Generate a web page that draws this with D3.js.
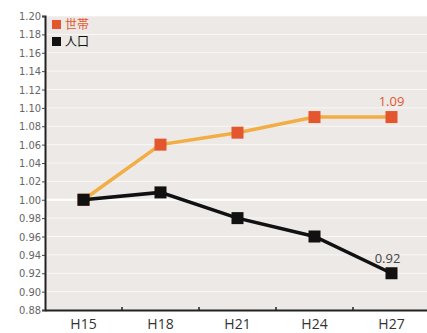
<!DOCTYPE html>
<html>
<head>
<meta charset="utf-8">
<script src="https://cdn.jsdelivr.net/npm/d3@7"></script>
<style>
  html, body { margin: 0; padding: 0; background: #ffffff; }
  svg { display: block; }
</style>
</head>
<body>
<div id="chart"></div>
<script>
// Survey years
const years = ["H15", "H18", "H21", "H24", "H27"];
// Index relative to H15 (= 1.00)
const households = [1.00, 1.06, 1.073, 1.09, 1.09];
const population = [1.00, 1.008, 0.98, 0.96, 0.92];
// Y axis tick values
const yTicks = [0.88, 0.90, 0.92, 0.94, 0.96, 0.98, 1.00, 1.02, 1.04, 1.06,
                1.08, 1.10, 1.12, 1.14, 1.16, 1.18, 1.20];
const seriesNames = ["世帯", "人口"];

const W = 427, H = 333;
const margin = { top: 16, right: -3, bottom: 23, left: 45 };

const svg = d3.select("#chart").append("svg")
  .attr("width", W).attr("height", H);

const x = d3.scaleBand()
  .domain(years)
  .range([margin.left, W - margin.right]);

const y = d3.scaleLinear()
  .domain([0.88, 1.20])
  .range([H - margin.bottom, margin.top]);

// Plot background
svg.append("rect")
  .attr("x", margin.left).attr("y", margin.top)
  .attr("width", W - margin.left).attr("height", y(0.88) - margin.top)
  .attr("fill", "#ece9e6");

// Horizontal gridlines
svg.append("g").selectAll("line")
  .data(yTicks.filter(d => d > 0.88))
  .join("line")
  .attr("x1", margin.left).attr("x2", W)
  .attr("y1", d => y(d)).attr("y2", d => y(d))
  .attr("stroke", "#ffffff")
  .attr("stroke-opacity", d => Math.abs(d - 1.0) < 1e-9 ? 1 : 0.7)
  .attr("stroke-width", d => Math.abs(d - 1.0) < 1e-9 ? 2 : 1);

// Y axis
const yAxis = svg.append("g")
  .attr("transform", `translate(${margin.left},0)`)
  .call(d3.axisLeft(y).tickValues(yTicks).tickFormat(d3.format(".2f")).tickSize(3));
yAxis.select(".domain").attr("stroke", "#222").attr("stroke-width", 2);
yAxis.selectAll(".tick line").attr("stroke", "#444");
yAxis.selectAll(".tick text")
  .attr("fill", "#666")
  .style("font-family", "'Liberation Sans Narrow', 'DejaVu Sans Condensed', sans-serif")
  .style("font-size", "11px")
  .attr("x", -4);

// X axis
const xAxis = svg.append("g")
  .attr("transform", `translate(0,${y(0.88)})`)
  .call(d3.axisBottom(x).tickSize(0).tickPadding(9));
xAxis.select(".domain").attr("stroke", "#222").attr("stroke-width", 2);
xAxis.selectAll(".tick text")
  .attr("fill", "#333")
  .style("font-family", "'Open Sans', 'DejaVu Sans', sans-serif")
  .style("font-size", "14px");
// Small ticks between categories
svg.append("g").selectAll("line")
  .data(years.slice(1))
  .join("line")
  .attr("x1", d => x(d)).attr("x2", d => x(d))
  .attr("y1", y(0.88) - 3).attr("y2", y(0.88))
  .attr("stroke", "#222").attr("stroke-width", 1.5);

const cx = d => x(d) + x.bandwidth() / 2;

function drawSeries(values, lineColor, markColor) {
  const data = years.map((yr, i) => ({ yr, v: values[i] }));
  svg.append("path")
    .datum(data)
    .attr("fill", "none")
    .attr("stroke", lineColor)
    .attr("stroke-width", 3.5)
    .attr("d", d3.line().x(d => cx(d.yr)).y(d => y(d.v)));
  const s = 12;
  svg.append("g").selectAll("rect")
    .data(data)
    .join("rect")
    .attr("x", d => cx(d.yr) - s / 2)
    .attr("y", d => y(d.v) - s / 2)
    .attr("width", s).attr("height", s)
    .attr("fill", markColor);
}

drawSeries(households, "#f2ad45", "#e4572e");
drawSeries(population, "#111111", "#111111");

// End-value labels
svg.append("text")
  .attr("x", cx("H27")).attr("y", y(households[4]) - 11)
  .attr("text-anchor", "middle")
  .attr("fill", "#e4572e")
  .style("font-family", "'Open Sans', 'DejaVu Sans', sans-serif")
  .style("font-size", "13px")
  .text(d3.format(".2f")(households[4]));
svg.append("text")
  .attr("x", cx("H27") - 4).attr("y", y(population[4]) - 10)
  .attr("text-anchor", "middle")
  .attr("fill", "#444")
  .style("font-family", "'Open Sans', 'DejaVu Sans', sans-serif")
  .style("font-size", "13px")
  .text(d3.format(".2f")(population[4]));

// Legend
const legendColors = ["#e4572e", "#111111"];
const legend = svg.append("g").attr("transform", `translate(52,18)`);
seriesNames.forEach((name, i) => {
  const g = legend.append("g").attr("transform", `translate(0,${i * 17})`);
  g.append("rect").attr("x", 0).attr("y", 2).attr("width", 9).attr("height", 9)
    .attr("fill", legendColors[i]);
  g.append("text").attr("x", 13).attr("y", 11)
    .attr("fill", i === 0 ? "#e4572e" : "#111")
    .style("font-family", "'Noto Sans CJK JP', sans-serif")
    .style("font-size", "12px")
    .text(name);
});
</script>
</body>
</html>
